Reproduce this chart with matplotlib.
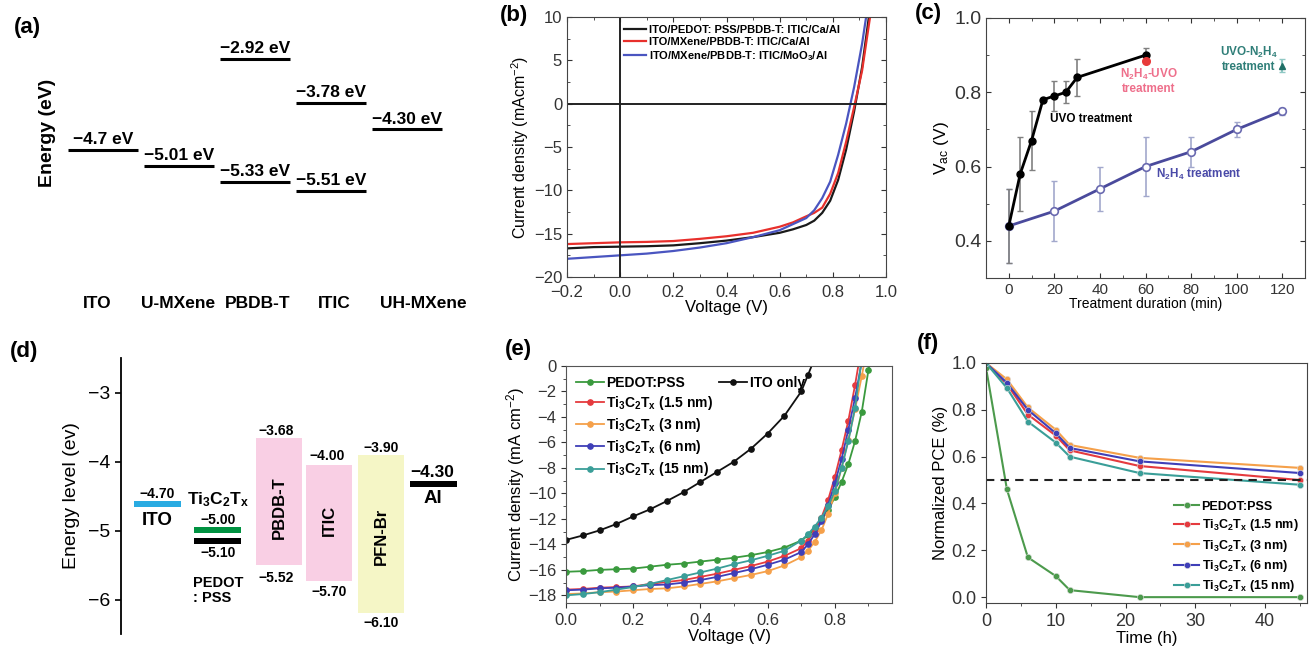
import matplotlib
matplotlib.use('Agg')
import matplotlib.pyplot as plt
from matplotlib.ticker import MultipleLocator

plt.rcParams['font.family'] = ['Liberation Sans', 'DejaVu Sans']
plt.rcParams['mathtext.default'] = 'regular'

W, H = 1313, 653

# ---- (a) energy levels
a_cols = ['ITO', 'U-MXene', 'PBDB-T', 'ITIC', 'UH-MXene']
a_idx = [0, 1, 2, 2, 3, 3, 4]
a_energy = [-4.7, -5.01, -2.92, -5.33, -3.78, -5.51, -4.30]
a_text = ['−4.7 eV', '−5.01 eV', '−2.92 eV', '−5.33 eV', '−3.78 eV', '−5.51 eV', '−4.30 eV']

# ---- (b) J-V curves
b_v = [-0.2, -0.1, 0.0, 0.1, 0.2, 0.3, 0.4, 0.5, 0.6, 0.65, 0.7, 0.73, 0.76, 0.79, 0.82, 0.85, 0.88, 0.91, 0.94, 0.97]
b_pedot = [-16.7, -16.55, -16.5, -16.45, -16.35, -16.1, -15.8, -15.4, -14.9, -14.5, -14.0, -13.5, -12.6, -11.2, -8.8, -5.3, -0.9, 4.2, 11.0, 19.0]
b_mx_ca = [-16.2, -16.1, -16.0, -15.95, -15.85, -15.6, -15.3, -14.9, -14.2, -13.7, -13.0, -12.6, -12.0, -10.4, -8.0, -4.4, -0.4, 3.8, 10.0, 17.0]
b_mx_moo3 = [-17.9, -17.7, -17.5, -17.3, -17.0, -16.6, -16.1, -15.4, -14.6, -13.9, -13.2, -12.3, -10.9, -9.0, -5.9, -2.3, 1.9, 6.9, 13.0, 20.0]
b_labels = ['ITO/PEDOT: PSS/PBDB-T: ITIC/Ca/Al', 'ITO/MXene/PBDB-T: ITIC/Ca/Al',
            'ITO/MXene/PBDB-T: ITIC/MoO$_3$/Al']

# ---- (c) Voc vs treatment time
c_uvo_t = [0, 5, 10, 15, 20, 25, 30, 60]
c_uvo_v = [0.44, 0.58, 0.67, 0.78, 0.79, 0.80, 0.84, 0.90]
c_uvo_lo = [0.34, 0.48, 0.59, 0.78, 0.75, 0.77, 0.79, 0.88]
c_uvo_hi = [0.54, 0.68, 0.75, 0.78, 0.83, 0.83, 0.89, 0.92]
c_n2h4_t = [0, 20, 40, 60, 80, 100, 120]
c_n2h4_v = [0.44, 0.48, 0.54, 0.60, 0.64, 0.70, 0.75]
c_n2h4_lo = [0.34, 0.40, 0.48, 0.52, 0.60, 0.68, 0.74]
c_n2h4_hi = [0.54, 0.56, 0.60, 0.68, 0.68, 0.72, 0.757]
c_n2h4_uvo = [60, 0.885]
c_uvo_n2h4 = [120, 0.87, 0.855, 0.89]

# ---- (d) band diagram
d_line_names = ['ITO', 'Ti3C2Tx', 'PEDOT', 'Al']
d_line_x = [1.06, 2.84, 2.84, 9.19]
d_line_level = [-4.62, -4.99, -5.15, -4.33]
d_line_color = ['#29abe2', '#009241', '#000000', '#000000']
d_box_names = ['PBDB-T', 'ITIC', 'PFN-Br']
d_box_x = [4.65, 6.13, 7.66]
d_box_top = [-3.66, -4.05, -3.91]
d_box_bot = [-5.50, -5.73, -6.19]
d_box_color = ['#f9cfe4', '#f9cfe4', '#f5f6c6']

# ---- (e) J-V with Ti3C2Tx thickness
e_v = [0, .05, .1, .15, .2, .25, .3, .35, .4, .45, .5, .55, .6, .65, .7,
       .72, .74, .76, .78, .80, .82, .84, .86, .88, .90, .92]
e_pedot = [-16.15, -16.1, -16.0, -15.95, -15.9, -15.75, -15.6, -15.5, -15.35, -15.2, -15.05, -14.85, -14.6,
           -14.25, -13.7, -13.3, -12.8, -12.1, -11.3, -10.3, -9.1, -7.7, -5.9, -3.6, -0.3, 3.0]
e_15 = [-17.55, -17.5, -17.4, -17.35, -17.3, -17.1, -16.95, -16.8, -16.55, -16.3, -16.0, -15.7, -15.35,
        -14.9, -14.3, -13.7, -12.9, -11.9, -10.5, -8.7, -6.6, -4.3, -1.5, 1.6]
e_3 = [-17.9, -17.85, -17.75, -17.7, -17.6, -17.5, -17.45, -17.3, -17.1, -16.9, -16.65, -16.4, -16.1,
       -15.65, -15.0, -14.5, -13.8, -12.9, -11.6, -10.0, -8.0, -5.8, -3.4, -0.8, 2.0]
e_6 = [-17.6, -17.55, -17.45, -17.4, -17.3, -17.2, -17.15, -17.0, -16.8, -16.55, -16.25, -15.95, -15.6,
       -15.2, -14.6, -14.0, -13.2, -12.2, -10.9, -9.2, -7.3, -5.0, -2.5, 0.3, 3.0]
e_15nm = [-18.0, -17.9, -17.75, -17.55, -17.35, -17.1, -16.8, -16.5, -16.2, -15.9, -15.55, -15.25, -14.9,
          -14.5, -13.7, -13.2, -12.6, -11.9, -11.0, -9.8, -8.0, -5.9, -3.3, 0.6]
e_ito = [-13.65, -13.3, -12.9, -12.4, -11.8, -11.25, -10.6, -9.9, -9.1, -8.3, -7.5, -6.5, -5.3,
         -3.9, -2.0, -0.7, 0.6]

# ---- (f) stability
f_t = [0, 3, 6, 10, 12, 22, 45]
f_pedot = [0.98, 0.46, 0.17, 0.09, 0.03, 0.0, 0.0]
f_1p5 = [1.0, 0.91, 0.78, 0.69, 0.627, 0.56, 0.50]
f_3 = [1.0, 0.93, 0.81, 0.715, 0.65, 0.595, 0.552]
f_6 = [1.0, 0.915, 0.80, 0.70, 0.637, 0.58, 0.53]
f_15 = [1.0, 0.893, 0.75, 0.66, 0.60, 0.53, 0.48]

ti = 'Ti$_3$C$_2$T$_x$'
series_names = ['PEDOT:PSS', ti + ' (1.5 nm)', ti + ' (3 nm)', ti + ' (6 nm)', ti + ' (15 nm)']
e_colors = ['#3a9a3e', '#e53a3e', '#f5a04a', '#3f3fb8', '#3a9e98']


def box(l, t, r, b):
    return [l / W, 1 - b / H, (r - l) / W, (b - t) / H]


fig = plt.figure(figsize=(W / 100, H / 100), dpi=100)

# ================= (a)
ax = fig.add_axes(box(60, 30, 460, 320))
ax.set_xlim(-0.566, 4.697)
ax.set_ylim(-8.038, -2.351)
ax.axis('off')
for i, e, s in zip(a_idx, a_energy, a_text):
    ax.hlines(e, i - 0.465, i + 0.465, color='black', lw=2.2)
    ax.annotate(s, (i, e), xytext=(0, 2), textcoords='offset points', ha='center', va='bottom',
                fontsize=12.5, fontweight='bold')
for xx, name in zip([-0.08, 0.99, 2.03, 3.04, 4.22], a_cols):
    ax.text(xx, -7.72, name, ha='center', va='center', fontsize=12.5, fontweight='bold')
fig.text(48 / W, 1 - 133 / H, 'Energy (eV)', rotation=90, ha='center', va='center',
         fontsize=14, fontweight='bold')

# ================= (b)
ax = fig.add_axes(box(567, 17, 886, 277))
ax.plot(b_v, b_pedot, color='#1a1a1a', lw=1.6, label=b_labels[0])
ax.plot(b_v, b_mx_ca, color='#e8302c', lw=1.6, label=b_labels[1])
ax.plot(b_v, b_mx_moo3, color='#4a55c0', lw=1.6, label=b_labels[2])
ax.axhline(0, color='#222222', lw=1.4)
ax.axvline(0, color='#222222', lw=1.4)
ax.set_xlim(-0.2, 1.0)
ax.set_ylim(-20, 10)
ax.xaxis.set_major_locator(MultipleLocator(0.2))
ax.xaxis.set_minor_locator(MultipleLocator(0.1))
ax.yaxis.set_major_locator(MultipleLocator(5))
ax.yaxis.set_minor_locator(MultipleLocator(2.5))
ax.tick_params(which='both', direction='in', top=True, right=True, labelsize=12, colors='#333333')
ax.tick_params(axis='x', pad=6)
ax.tick_params(which='minor', length=2)
ax.set_xlabel('Voltage (V)', fontsize=12, labelpad=0)
ax.set_ylabel('Current density (mAcm$^{-2}$)', fontsize=11.5, labelpad=2)
for s in ax.spines.values():
    s.set_color('#444444')
ax.legend(loc='upper left', bbox_to_anchor=(0.155, 1.0), frameon=False,
          prop={'weight': 'bold', 'size': 8}, handlelength=2.0, handletextpad=0.2,
          labelspacing=0.2, borderaxespad=0.3)

# ================= (c)
ax = fig.add_axes(box(986, 18, 1305, 278))
ax.errorbar(c_n2h4_t, c_n2h4_v,
            yerr=[[v - lo for v, lo in zip(c_n2h4_v, c_n2h4_lo)], [hi - v for v, hi in zip(c_n2h4_v, c_n2h4_hi)]],
            fmt='none', ecolor='#a2a8cc', elinewidth=1.2, capsize=2.5, zorder=1)
ax.errorbar(c_uvo_t, c_uvo_v,
            yerr=[[v - lo for v, lo in zip(c_uvo_v, c_uvo_lo)], [hi - v for v, hi in zip(c_uvo_v, c_uvo_hi)]],
            fmt='none', ecolor='#808080', elinewidth=1.2, capsize=2.5, zorder=1)
ax.plot(c_n2h4_t, c_n2h4_v, color='#4a4a9c', lw=2, marker='o', ms=5.5, mfc='white', mec='#6a6ab0',
        mew=1.2, zorder=2)
ax.plot(c_uvo_t, c_uvo_v, color='black', lw=2, marker='o', ms=5, zorder=3)
ax.plot(c_n2h4_uvo[0], c_n2h4_uvo[1], 'o', color='#e83a3a', ms=5.5, zorder=4)
ax.errorbar(c_uvo_n2h4[0], c_uvo_n2h4[1],
            yerr=[[c_uvo_n2h4[1] - c_uvo_n2h4[2]], [c_uvo_n2h4[3] - c_uvo_n2h4[1]]],
            fmt='^', color='#1f6f66', ecolor='#8fc8c4', ms=5, capsize=2, zorder=4)
ax.text(36, 0.727, 'UVO treatment', fontsize=8.5, fontweight='bold', ha='center', va='center')
ax.text(61.5, 0.831, 'N$_2$H$_4$-UVO\ntreatment', fontsize=8.5, fontweight='bold', color='#ee6f8b',
        ha='center', va='center', linespacing=1.1)
ax.text(83.6, 0.578, 'N$_2$H$_4$ treatment', fontsize=8.5, fontweight='bold', color='#4a4aa8',
        ha='center', va='center')
ax.text(105.4, 0.889, 'UVO-N$_2$H$_4$\ntreatment', fontsize=8.5, fontweight='bold', color='#2f7e78',
        ha='center', va='center', linespacing=1.1)
ax.set_xlim(-10, 130)
ax.set_ylim(0.3, 1.0)
ax.xaxis.set_major_locator(MultipleLocator(20))
ax.xaxis.set_minor_locator(MultipleLocator(10))
ax.yaxis.set_major_locator(MultipleLocator(0.2))
ax.yaxis.set_minor_locator(MultipleLocator(0.1))
ax.tick_params(which='both', direction='in', top=True, right=True, colors='#333333')
ax.tick_params(axis='x', labelsize=11)
ax.tick_params(axis='y', labelsize=14)
ax.tick_params(which='minor', length=2)
ax.set_xlabel('Treatment duration (min)', fontsize=10, labelpad=0)
ax.set_ylabel('V$_{ac}$ (V)', fontsize=12.5, labelpad=2)
for s in ax.spines.values():
    s.set_color('#444444')

# ================= (d)
ax = fig.add_axes(box(121, 358, 461, 634))
ax.set_xlim(0, 10)
ax.set_ylim(-6.5, -2.5)
for s in ['top', 'right', 'bottom']:
    ax.spines[s].set_visible(False)
ax.spines['left'].set_linewidth(1.3)
ax.set_xticks([])
ax.set_yticks([-3, -4, -5, -6])
ax.tick_params(axis='y', labelsize=14, length=4, width=1.2)
ax.set_ylabel('Energy level (ev)', fontsize=14, labelpad=6)
ax.bar(d_box_x, [t - b for t, b in zip(d_box_top, d_box_bot)], bottom=d_box_bot, width=1.35,
       color=d_box_color)
ax.bar(d_line_x, 0.085, bottom=[lv - 0.0425 for lv in d_line_level], width=1.38, color=d_line_color)
bold = dict(fontweight='bold', ha='center', va='center')
ax.text(1.06, -4.464, '−4.70', fontsize=10, **bold)
ax.text(1.06, -4.86, 'ITO', fontsize=13.5, **bold)
ax.text(2.85, -4.551, ti, fontsize=12.5, **bold)
ax.text(2.85, -4.844, '−5.00', fontsize=10, **bold)
ax.text(2.85, -5.327, '−5.10', fontsize=10, **bold)
ax.text(2.12, -5.87, 'PEDOT\n: PSS', fontsize=10.5, fontweight='bold', ha='left', va='center',
        linespacing=1.05)
ax.text(4.56, -3.556, '−3.68', fontsize=10, **bold)
ax.text(4.56, -5.693, '−5.52', fontsize=10, **bold)
ax.text(6.06, -3.922, '−4.00', fontsize=10, **bold)
ax.text(6.12, -5.898, '−5.70', fontsize=10, **bold)
ax.text(7.64, -3.805, '−3.90', fontsize=10, **bold)
ax.text(7.64, -6.337, '−6.10', fontsize=10, **bold)
ax.text(9.15, -4.156, '−4.30', fontsize=12.5, **bold)
ax.text(9.17, -4.537, 'Al', fontsize=13.5, **bold)
for xx, yy, name in zip(d_box_x, [-4.67, -4.86, -5.08], d_box_names):
    ax.text(xx, yy, name, rotation=90, fontsize=12, **bold)

# ================= (e)
ax = fig.add_axes(box(566, 366, 892, 603))
handles = []
for ys, c, name in zip([e_pedot, e_15, e_3, e_6, e_15nm], e_colors, series_names):
    h, = ax.plot(e_v[:len(ys)], ys, color=c, lw=1.3, marker='o', ms=3.8, label=name)
    handles.append(h)
h_ito, = ax.plot(e_v[:len(e_ito)], e_ito, color='#111111', lw=1.3, marker='o', ms=3.8, label='ITO only')
ax.set_xlim(0, 0.97)
ax.set_ylim(-18.6, 0)
ax.xaxis.set_major_locator(MultipleLocator(0.2))
ax.xaxis.set_minor_locator(MultipleLocator(0.1))
ax.yaxis.set_major_locator(MultipleLocator(2))
ax.yaxis.set_minor_locator(MultipleLocator(1))
ax.tick_params(which='both', direction='out', labelsize=12, colors='#333333')
ax.tick_params(which='minor', length=2)
ax.set_xlabel('Voltage (V)', fontsize=12, labelpad=1)
ax.set_ylabel('Current density (mA cm$^{-2}$)', fontsize=12, labelpad=1)
for s in ax.spines.values():
    s.set_color('#555555')
leg = ax.legend(handles=handles, loc='upper left', bbox_to_anchor=(0.0, 1.0), frameon=False,
                prop={'weight': 'bold', 'size': 10}, handlelength=2.0, handletextpad=0.2,
                labelspacing=0.3, borderaxespad=0.3)
ax.add_artist(leg)
ax.legend(handles=[h_ito], loc='upper left', bbox_to_anchor=(0.44, 1.0), frameon=False,
          prop={'weight': 'bold', 'size': 10}, handlelength=2.0, handletextpad=0.2, borderaxespad=0.3)

# ================= (f)
ax = fig.add_axes(box(986, 363, 1307, 603))
f_colors = ['#4c9a4c', '#e53a3e', '#f5a04a', '#3f3fb8', '#3a9e98']
for ys, c, name in zip([f_pedot, f_1p5, f_3, f_6, f_15], f_colors, series_names):
    ax.plot(f_t, ys, color=c, lw=1.5, marker='o', ms=4.5, mfc=c, mec='#dddddd', mew=0.4, label=name)
ax.axhline(0.5, color='#222222', lw=1.5, ls=(0, (4, 3)))
ax.set_xlim(0, 46)
ax.set_ylim(-0.025, 1.0)
ax.xaxis.set_major_locator(MultipleLocator(10))
ax.xaxis.set_minor_locator(MultipleLocator(5))
ax.yaxis.set_major_locator(MultipleLocator(0.2))
ax.tick_params(which='both', direction='out', labelsize=13, colors='#333333')
ax.tick_params(which='minor', length=2)
ax.set_xlabel('Time (h)', fontsize=12, labelpad=1)
ax.set_ylabel('Normalized PCE (%)', fontsize=12, labelpad=2)
for s in ax.spines.values():
    s.set_color('#444444')
ax.legend(loc='lower right', bbox_to_anchor=(1.0, 0.0), frameon=False,
          prop={'weight': 'bold', 'size': 9}, handlelength=2.0, handletextpad=0.2,
          labelspacing=0.35, borderaxespad=0.3)

# panel letters
for lbl, px, py in [('(a)', 27, 27), ('(b)', 514, 15), ('(c)', 928, 14),
                    ('(d)', 24, 352), ('(e)', 518, 350), ('(f)', 928, 343)]:
    fig.text(px / W, 1 - py / H, lbl, fontsize=16, fontweight='bold', ha='center', va='center')

fig.savefig('out.png', dpi=100)
